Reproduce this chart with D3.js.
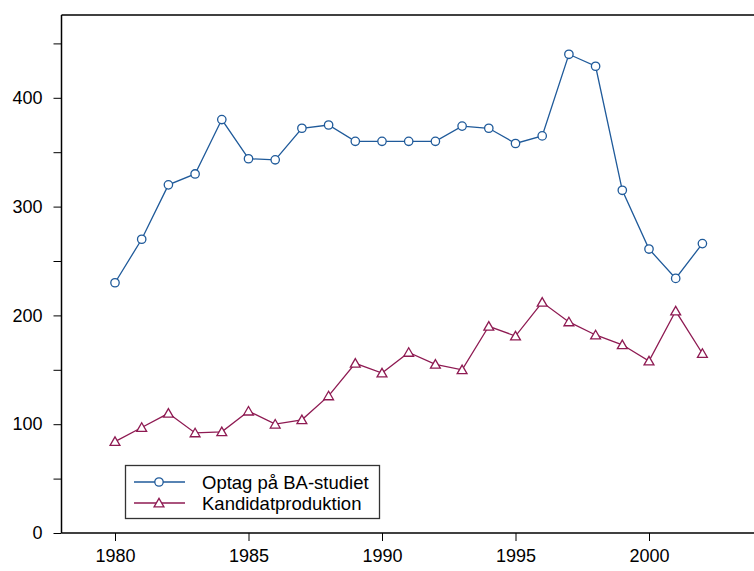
<!DOCTYPE html>
<html>
<head>
<meta charset="utf-8">
<script src="https://cdn.jsdelivr.net/npm/d3@7"></script>
<style>
  body { margin: 0; background: #fff; }
  text { font-family: "Liberation Sans", Arial, sans-serif; }
</style>
</head>
<body>
<svg width="754" height="571"></svg>
<script>
const years = d3.range(1980, 2003);
const optag = [230, 270, 320, 330, 380, 344, 343, 372, 375, 360, 360, 360, 360,
  374, 372, 358, 365, 440, 429, 315, 261, 234, 266];
const kandidat = [84, 97, 110, 92, 93, 112, 100, 104, 126, 156, 147, 166, 155,
  150, 190, 181, 212, 194, 182, 173, 158, 204, 165];
const xTicks = [1980, 1985, 1990, 1995, 2000];
const yTicks = [0, 100, 200, 300, 400];
const yMinor = [50, 150, 250, 350, 450];
const seriesNames = ["Optag på BA-studiet", "Kandidatproduktion"];

const svg = d3.select("svg");
const width = +svg.attr("width");

const plotLeft = 61.5, plotTop = 15, plotBottom = 533;

const x = d3.scaleLinear().domain([1980, 2000]).range([115, 649]);
const y = d3.scaleLinear().domain([0, 400]).range([plotBottom, 97.8]);

const blue = "#1f5a9a";
const red = "#8e1a52";

// frame
svg.append("line")
  .attr("x1", plotLeft).attr("x2", width)
  .attr("y1", plotTop).attr("y2", plotTop)
  .attr("stroke", "#000").attr("stroke-width", 1.5);

const yAxis = svg.append("g")
  .attr("transform", `translate(${plotLeft},0)`)
  .call(d3.axisLeft(y).tickValues(yTicks).tickSize(8).tickPadding(11).tickFormat(d3.format("d")));
yAxis.select(".domain").attr("d", `M0,${plotTop}V${plotBottom}`).attr("stroke-width", 1.5);
yAxis.selectAll("text").attr("font-size", 18).attr("fill", "#000")
  .style("font-family", "'Liberation Sans', Arial, sans-serif");

svg.append("g")
  .attr("transform", `translate(${plotLeft},0)`)
  .call(d3.axisLeft(y).tickValues(yMinor).tickSize(8).tickFormat(""))
  .select(".domain").remove();

const xAxis = svg.append("g")
  .attr("transform", `translate(0,${plotBottom})`)
  .call(d3.axisBottom(x).tickValues(xTicks).tickSize(8).tickPadding(8).tickFormat(d3.format("d")));
xAxis.select(".domain").attr("d", `M${plotLeft},0H${width}`).attr("stroke-width", 1.5);
xAxis.selectAll("text").attr("font-size", 18).attr("fill", "#000")
  .style("font-family", "'Liberation Sans', Arial, sans-serif");

const line = d3.line().x((d, i) => x(years[i])).y(d => y(d));

const tri = d3.symbol().type(d3.symbolTriangle).size(42);

function drawCircles(g, data) {
  g.selectAll("circle").data(data).join("circle")
    .attr("cx", (d, i) => x(years[i])).attr("cy", d => y(d))
    .attr("r", 4.2).attr("fill", "#fff").attr("stroke", blue).attr("stroke-width", 1.3);
}

svg.append("path").datum(optag).attr("d", line)
  .attr("fill", "none").attr("stroke", blue).attr("stroke-width", 1.3);
drawCircles(svg.append("g"), optag);

svg.append("path").datum(kandidat).attr("d", line)
  .attr("fill", "none").attr("stroke", red).attr("stroke-width", 1.3);
svg.append("g").selectAll("path").data(kandidat).join("path")
  .attr("d", tri)
  .attr("transform", (d, i) => `translate(${x(years[i])},${y(d) + 1})`)
  .attr("fill", "#fff").attr("stroke", red).attr("stroke-width", 1.3);

// legend
const lg = svg.append("g");
lg.append("rect").attr("x", 125.5).attr("y", 465.5).attr("width", 254).attr("height", 53)
  .attr("fill", "#fff").attr("stroke", "#333").attr("stroke-width", 1.3);
const rows = [482, 503];
const colors = [blue, red];
seriesNames.forEach((name, i) => {
  lg.append("line").attr("x1", 134).attr("x2", 185).attr("y1", rows[i]).attr("y2", rows[i])
    .attr("stroke", colors[i]).attr("stroke-width", 1.3);
  if (i === 0) {
    lg.append("circle").attr("cx", 159).attr("cy", rows[i]).attr("r", 4.2)
      .attr("fill", "#fff").attr("stroke", blue).attr("stroke-width", 1.3);
  } else {
    lg.append("path").attr("d", tri).attr("transform", `translate(159,${rows[i] + 1})`)
      .attr("fill", "#fff").attr("stroke", red).attr("stroke-width", 1.3);
  }
  lg.append("text").attr("x", 202).attr("y", rows[i] + 6.5).attr("font-size", 18.5)
    .attr("fill", "#000").text(name);
});
</script>
</body>
</html>
